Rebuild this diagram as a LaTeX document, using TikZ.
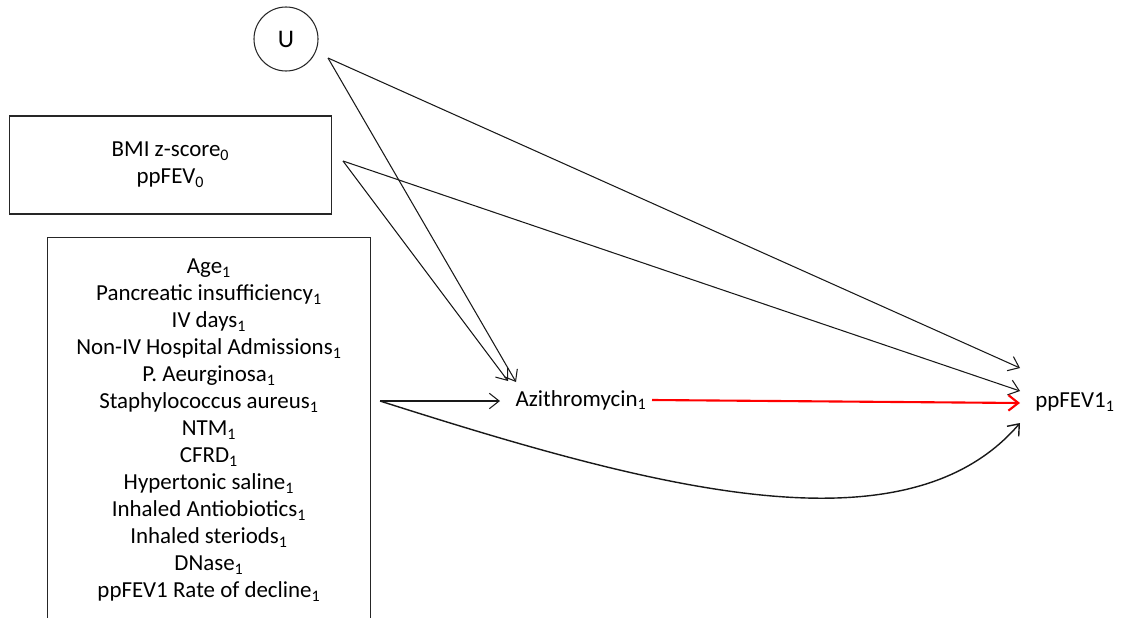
\documentclass[tikz,border=0pt]{standalone}
\usepackage{fontspec}
\setmainfont{Carlito}
\usetikzlibrary{arrows.meta, positioning}

\begin{document}
\begin{tikzpicture}[x = 0.025cm, y = -0.025cm,
	every node/.style = {font = \fontsize{16.3}{19.2}\selectfont},
	varbox/.style = {draw = black!85, line width = 0.75pt, align = center, inner sep = 0pt},
	edge/.style = {-{Straight Barb[length = 7pt, width = 11pt]}, line width = 0.75pt, black!90},
	causal/.style = {edge, red, line width = 1.5pt}]

	\useasboundingbox (0,0) rectangle (1121,618);
	\clip (0,0) rectangle (1121,618);

	% variables
	\begin{scope}
		\node [circle, draw = black!85, line width = 0.75pt, minimum size = 1.6cm, inner sep = 0pt,
			font = \fontsize{18}{20}\selectfont] (U) at (286,39) {U};
		\node [varbox, minimum width = 8.025cm, minimum height = 2.45cm] (base) at (170.5,165)
			{BMI z-score\textsubscript{0}\\ ppFEV\textsubscript{0}};
		\node [varbox, minimum width = 8.05cm, minimum height = 9.6cm] (cov) at (209,430)
			{Age\textsubscript{1}\\
			Pancreatic insufficiency\textsubscript{1}\\
			IV days\textsubscript{1}\\
			Non-IV Hospital Admissions\textsubscript{1}\\
			P. Aeurginosa\textsubscript{1}\\
			Staphylococcus aureus\textsubscript{1}\\
			NTM\textsubscript{1}\\
			CFRD\textsubscript{1}\\
			Hypertonic saline\textsubscript{1}\\
			Inhaled Antiobiotics\textsubscript{1}\\
			Inhaled steriods\textsubscript{1}\\
			DNase\textsubscript{1}\\
			ppFEV1 Rate of decline\textsubscript{1}};
		\node [inner sep = 0pt] (azi) at (581,400) {Azithromycin\textsubscript{1}};
		\node [inner sep = 0pt] (fev) at (1075,402) {ppFEV1\textsubscript{1}};
	\end{scope}

	% arrow ends
	\coordinate (Uout) at (328,58);
	\coordinate (baseout) at (343,161);
	\coordinate (covout) at (380,401);
	\coordinate (aziU) at (516,382);
	\coordinate (azibase) at (508,381);
	\coordinate (azicov) at (500,401);
	\coordinate (aziout) at (652,400);
	\coordinate (fevU) at (1020,368);
	\coordinate (fevbase) at (1020,391);
	\coordinate (fevazi) at (1020,403);
	\coordinate (fevcov) at (1020,423);

	\begin{scope}
		\draw [edge] (Uout) -- (aziU);
		\draw [edge] (Uout) -- (fevU);
		\draw [edge] (baseout) -- (azibase);
		\draw [edge] (baseout) -- (fevbase);
		\draw [edge] (covout) -- (azicov);
		\draw [edge, line width = 1pt] (covout) .. controls (650,487) and (905,557) .. (fevcov);
		\draw [causal] (aziout) -- (fevazi);
	\end{scope}
\end{tikzpicture}
\end{document}
